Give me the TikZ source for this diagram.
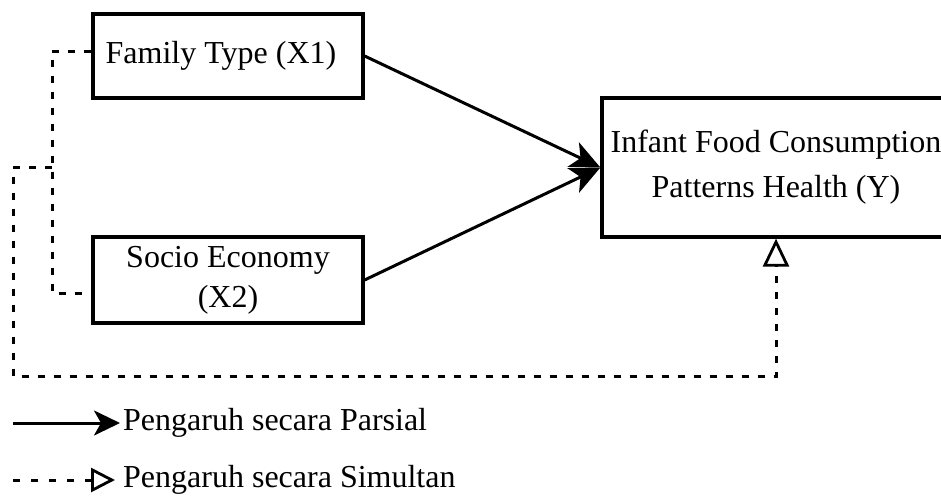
\documentclass[tikz,border=0pt]{standalone}
\usepackage{fontspec}
\setmainfont{Liberation Serif}
\usetikzlibrary{arrows.meta}
\begin{document}
\begin{tikzpicture}[x=1pt,y=-1pt,
  box/.style={draw, line width=3.2pt, inner sep=0pt, align=center},
  solidarr/.style={line width=3pt, -{Stealth[length=30pt,width=27pt,inset=8pt]}},
  legarr/.style={line width=3pt, -{Stealth[length=26pt,width=25pt,inset=7pt]}},
  dashline/.style={line width=3pt, dash pattern=on 7pt off 9pt},
  simarr/.style={dashline, -{Triangle[open,length=28pt,width=26pt,line width=2.8pt]}},
  simarrsmall/.style={line width=3pt, dash pattern=on 7pt off 11pt, -{Triangle[open,length=24pt,width=24pt,line width=2.8pt]}},
  lbl/.style={font=\fontsize{32}{38}\selectfont, anchor=west, inner sep=0pt}]
\useasboundingbox (0,0) rectangle (941,498);
\clip (0,0) rectangle (941,498);

\node[box, minimum width=270pt, minimum height=84pt, font=\fontsize{32}{38}\selectfont] (x1) at (228,56) {Family Type (X1)\hspace{14pt}};
\node[box, minimum width=270pt, minimum height=86pt, font=\fontsize{32}{40}\selectfont] (x2) at (228,280) {Socio Economy\\(X2)};
\node[box, minimum width=348pt, minimum height=139pt, font=\fontsize{32}{45}\selectfont] (y) at (776,167.5) {Infant Food Consumption\\Patterns Health (Y)};

\draw[solidarr] (x1.east) -- (y.west);
\draw[solidarr] (x2.east) -- (y.west);

\coordinate (j) at (52,167.5);
\draw[dashline] ([yshift=5pt]x1.west) -| (j) |- ([yshift=-13pt]x2.west);
\draw[simarr] (j) -- (13,167.5) -- (13,376) -| (y.south);

\node[lbl] (l1) at (123,423) {Pengaruh secara Parsial};
\coordinate (l1s) at (13,423);
\draw[legarr] (l1s) -- ([xshift=-3pt]l1.west);

\node[lbl] (l2) at (123,480) {Pengaruh secara Simultan};
\coordinate (l2s) at (13,480);
\draw[simarrsmall] (l2s) -- ([xshift=-8pt]l2.west);
\end{tikzpicture}
\end{document}
